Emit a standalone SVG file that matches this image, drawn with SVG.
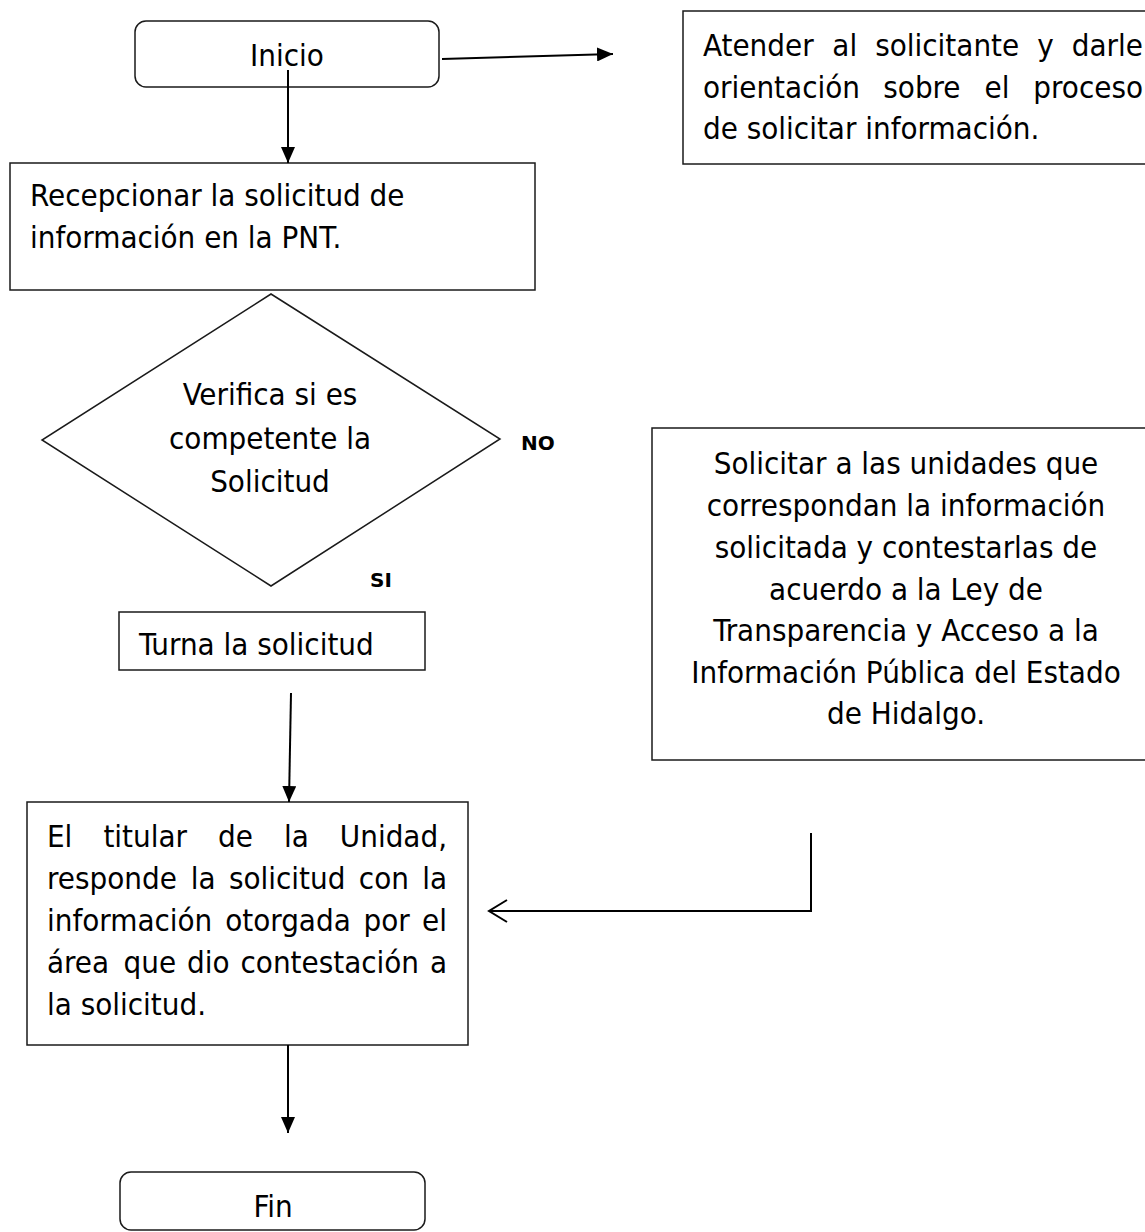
<svg xmlns="http://www.w3.org/2000/svg" width="1145" height="1232" viewBox="0 0 1145 1232">
<style>
.box{fill:#fff;stroke:#1a1a1a;stroke-width:1.5}
.t{font-family:"DejaVu Sans Condensed","DejaVu Sans",sans-serif;font-stretch:condensed;font-size:31px;fill:#000}
.c{text-anchor:middle}
.e{text-anchor:end}
.lbl{font-family:"DejaVu Sans","Liberation Sans",sans-serif;font-weight:bold;font-size:20px;fill:#000}
.ln{fill:none;stroke:#000;stroke-width:2}
</style>
<defs>
<marker id="tri" viewBox="0 0 16 14" refX="16" refY="7" markerWidth="16" markerHeight="14" markerUnits="userSpaceOnUse" orient="auto"><path d="M0,0 L16,7 L0,14 z" fill="#000"/></marker>
</defs>
<rect width="1145" height="1232" fill="#fff"/>

<g id="inicio">
<rect class="box" x="135" y="21" width="304" height="66" rx="11"/>
<text class="t c" x="287" y="66">Inicio</text>
</g>

<g id="atender">
<rect class="box" x="683" y="11" width="470" height="153"/>
<text class="t" y="56"><tspan x="703">Atender</tspan><tspan x="832.3">al</tspan><tspan x="875.2">solicitante</tspan><tspan x="1037.3">y</tspan></text>
<text class="t e" x="1143" y="56">darle</text>
<text class="t" y="98"><tspan x="703">orientación</tspan><tspan x="883.3">sobre</tspan><tspan x="984.5">el</tspan></text>
<text class="t e" x="1143" y="98">proceso</text>
<text class="t" x="703" y="139">de solicitar información.</text>
</g>

<g id="recepcionar">
<rect class="box" x="10" y="163" width="525" height="127"/>
<text class="t" x="30" y="206">Recepcionar la solicitud de</text>
<text class="t" x="30" y="248">información en la PNT.</text>
</g>

<g id="verifica">
<polygon class="box" points="271,294 500,439 271,586 42,440"/>
<text class="t c" x="270" y="405">Verifica si es</text>
<text class="t c" x="270" y="449">competente la</text>
<text class="t c" x="270" y="492">Solicitud</text>
</g>

<g id="labels">
<text class="lbl" x="521" y="450">NO</text>
<text class="lbl" x="370" y="587">SI</text>
</g>

<g id="turna">
<rect class="box" x="119" y="612" width="306" height="58"/>
<text class="t" x="139" y="655">Turna la solicitud</text>
</g>

<g id="solicitar">
<rect class="box" x="652" y="428" width="500" height="332"/>
<text class="t c" x="906" y="474">Solicitar a las unidades que</text>
<text class="t c" x="906" y="516">correspondan la información</text>
<text class="t c" x="906" y="558">solicitada y contestarlas de</text>
<text class="t c" x="906" y="600">acuerdo a la Ley de</text>
<text class="t c" x="906" y="641">Transparencia y Acceso a la</text>
<text class="t c" x="906" y="683">Información Pública del Estado</text>
<text class="t c" x="906" y="724">de Hidalgo.</text>
</g>

<g id="titular">
<rect class="box" x="27" y="802" width="441" height="243"/>
<text class="t" y="847"><tspan x="47">El</tspan><tspan x="103.4">titular</tspan><tspan x="218">de</tspan><tspan x="283.9">la</tspan></text>
<text class="t e" x="447" y="847">Unidad,</text>
<text class="t" y="889"><tspan x="47">responde</tspan><tspan x="190.8">la</tspan><tspan x="228.9">solicitud</tspan><tspan x="358.8">con</tspan></text>
<text class="t e" x="447" y="889">la</text>
<text class="t" y="931"><tspan x="47">información</tspan><tspan x="225.2">otorgada</tspan><tspan x="363.6">por</tspan></text>
<text class="t e" x="447" y="931">el</text>
<text class="t" y="973"><tspan x="47">área</tspan><tspan x="123.5">que</tspan><tspan x="187">dio</tspan><tspan x="240.5">contestación</tspan></text>
<text class="t e" x="447" y="973">a</text>
<text class="t" x="47" y="1015">la solicitud.</text>
</g>

<g id="fin">
<rect class="box" x="120" y="1172" width="305" height="58" rx="11"/>
<text class="t c" x="273" y="1217">Fin</text>
</g>

<g id="connectors">
<line class="ln" x1="442" y1="59" x2="613" y2="54" marker-end="url(#tri)"/>
<line class="ln" x1="288" y1="70" x2="288" y2="163" marker-end="url(#tri)"/>
<line class="ln" x1="291" y1="693" x2="289" y2="802" marker-end="url(#tri)"/>
<line class="ln" x1="288" y1="1045" x2="288" y2="1133" marker-end="url(#tri)"/>
<polyline class="ln" points="811,833 811,911 489,911"/>
<polyline class="ln" points="507,900 489,911 507,922"/>
</g>
</svg>
